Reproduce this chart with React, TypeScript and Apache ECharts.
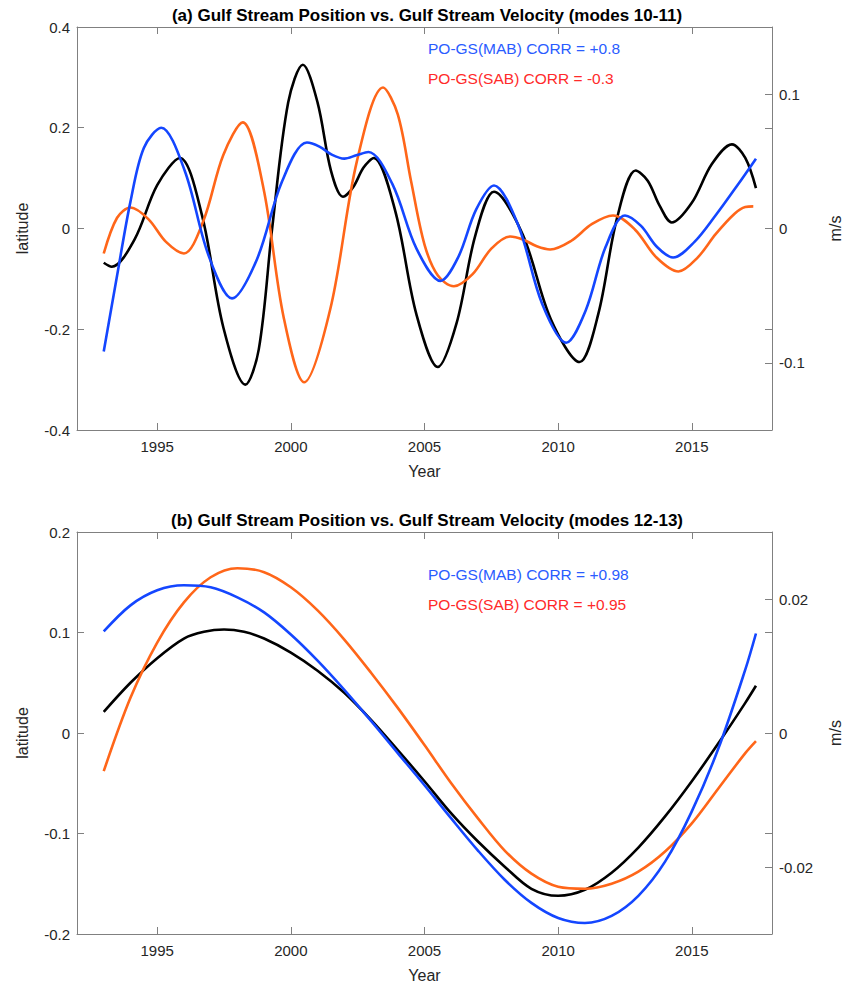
import React, { useEffect, useRef } from "react";
import * as echarts from "echarts";

// ---------- DATA ----------
const yearTicks = [1995, 2000, 2005, 2010, 2015];

// Panel (a) modes 10-11
// black: Gulf Stream position (latitude, left axis)
const posA: [number, number][] = [
  [1993.0, -0.068], [1993.3, -0.076], [1994.15, -0.022], [1995.0, 0.086], [1995.85, 0.14],
  [1996.67, 0.0275], [1997.48, -0.1975], [1998.3, -0.31], [1998.8, -0.24], [1999.3, 0.0],
  [1999.9, 0.25], [2000.45, 0.325], [2001.0, 0.25], [2001.5, 0.115], [2001.95, 0.063],
  [2002.33, 0.082], [2002.72, 0.121], [2003.1, 0.14], [2003.9, 0.036], [2004.7, -0.171],
  [2005.5, -0.275], [2006.2, -0.188], [2006.9, -0.014], [2007.6, 0.073], [2008.67, -0.0115],
  [2009.73, -0.1805], [2010.8, -0.265], [2011.5, -0.17], [2012.2, 0.02], [2012.9, 0.115],
  [2013.35, 0.095], [2013.8, 0.045], [2014.25, 0.012], [2015.0, 0.051], [2015.75, 0.128],
  [2016.5, 0.167], [2017.0, 0.14], [2017.4, 0.08],
];
// blue: PO-GS(MAB) velocity (m/s, right axis)
const mabA: [number, number][] = [
  [1993.0, -0.0915], [1993.5, -0.035], [1994.0, 0.02], [1994.5, 0.06], [1995.15, 0.075],
  [1996.03, 0.043], [1996.92, -0.02], [1997.8, -0.052], [1998.73, -0.023], [1999.67, 0.035],
  [2000.6, 0.064], [2001.07, 0.061], [2001.53, 0.055], [2002.0, 0.052], [2002.45, 0.0545],
  [2002.9, 0.057], [2003.8, 0.033], [2004.7, -0.015], [2005.6, -0.039], [2006.27, -0.021],
  [2006.93, 0.014], [2007.6, 0.032], [2008.5, 0.0028], [2009.4, -0.056], [2010.3, -0.085],
  [2011.03, -0.061], [2011.77, -0.014], [2012.5, 0.0097], [2013.1, 0.0019], [2013.7, -0.0138],
  [2014.3, -0.0216], [2015.1, -0.01], [2015.9, 0.01], [2016.7, 0.032], [2017.4, 0.052],
];
// orange: PO-GS(SAB) velocity (m/s, right axis)
const sabA: [number, number][] = [
  [1993.0, -0.0186], [1993.5, 0.008], [1994.0, 0.0156], [1994.67, 0.007], [1995.33, -0.01],
  [1996.0, -0.0186], [1996.73, 0.0058], [1997.47, 0.0546], [1998.2, 0.079], [1998.97, 0.0306],
  [1999.73, -0.066], [2000.5, -0.1145], [2001.48, -0.0596], [2002.47, 0.05], [2003.45, 0.105],
  [2004.0, 0.085], [2004.5, 0.035], [2005.0, -0.012], [2005.5, -0.035], [2006.1, -0.043],
  [2006.8, -0.034], [2007.5, -0.015], [2008.2, -0.006], [2008.7, -0.0084], [2009.2, -0.0132],
  [2009.7, -0.0156], [2010.48, -0.0093], [2011.27, 0.0034], [2012.05, 0.0097], [2012.87, -0.0007],
  [2013.68, -0.0216], [2014.5, -0.032], [2015.2, -0.022], [2015.9, -0.004], [2016.6, 0.011],
  [2017.0, 0.016], [2017.3, 0.0165],
];

// Panel (b) modes 12-13
const posB: [number, number][] = [
  [1993, 0.021], [1994, 0.05], [1995, 0.0745], [1996, 0.094], [1996.75, 0.1007], [1997.5, 0.103],
  [1998.25, 0.1007], [1999, 0.094], [2000, 0.08], [2001, 0.062], [2002, 0.04], [2003, 0.013],
  [2004, -0.017], [2005, -0.048], [2006, -0.08], [2007, -0.108], [2008, -0.133], [2009, -0.155],
  [2010, -0.162], [2011, -0.156], [2012, -0.139], [2013, -0.114], [2014, -0.083], [2015, -0.048],
  [2016, -0.01], [2017, 0.03], [2017.4, 0.047],
];
const mabB: [number, number][] = [
  [1993, 0.01515], [1994, 0.01905], [1995, 0.0213], [1996, 0.02205], [1997, 0.02175],
  [1998, 0.02025], [1999, 0.018], [2000, 0.0147], [2001, 0.0108], [2002, 0.00645],
  [2003, 0.0018], [2004, -0.003], [2005, -0.0078], [2006, -0.01275], [2007, -0.01755],
  [2008, -0.0219], [2009, -0.02535], [2010, -0.0276], [2011, -0.02835], [2012, -0.0273],
  [2013, -0.0243], [2014, -0.0192], [2015, -0.0117], [2016, -0.00225], [2017, 0.00945],
  [2017.4, 0.01485],
];
const sabB: [number, number][] = [
  [1993, -0.0057], [1994, 0.00525], [1995, 0.0135], [1996, 0.0195], [1997, 0.02325],
  [1998, 0.0246], [1999, 0.024], [2000, 0.02175], [2001, 0.0183], [2002, 0.01395],
  [2003, 0.009], [2004, 0.00375], [2005, -0.0018], [2006, -0.0075], [2007, -0.01275],
  [2008, -0.01755], [2009, -0.021], [2010, -0.02295], [2011, -0.02325], [2012, -0.0225],
  [2013, -0.0207], [2014, -0.0177], [2015, -0.0135], [2016, -0.00825], [2017, -0.003],
  [2017.4, -0.0012],
];

const titleA = "(a) Gulf Stream Position vs. Gulf Stream Velocity (modes 10-11)";
const titleB = "(b) Gulf Stream Position vs. Gulf Stream Velocity (modes 12-13)";
const corrA = ["PO-GS(MAB) CORR = +0.8", "PO-GS(SAB) CORR = -0.3"];
const corrB = ["PO-GS(MAB) CORR = +0.98", "PO-GS(SAB) CORR = +0.95"];

// ---------- STYLE ----------
const FONT = '"Liberation Sans", Arial, Helvetica, sans-serif';
const AX = "#808080";
const TXT = "#262626";
const BLACK = "#000000";
const BLUE = "#1446ff";
const ORANGE = "#ff6619";
const BLUE_TXT = "#2a5cff";
const RED_TXT = "#ff2a2a";

const GRID_LEFT = 77;
const GRID_W = 700;
const GRID_H = 403;
const TOP_A = 27;
const TOP_B = 532;

const fmt = (v: number) => String(v);

function xAxes(gridIndex: number) {
  const common = {
    type: "value" as const,
    gridIndex,
    min: 1992,
    max: 2018,
    splitLine: { show: false },
    axisLine: { show: true, onZero: false, lineStyle: { color: AX, width: 1 } },
  };
  return [
    {
      ...common,
      position: "bottom",
      axisTick: { show: true, inside: true, length: 7, customValues: yearTicks, lineStyle: { color: AX } },
      axisLabel: {
        show: true, customValues: yearTicks, margin: 9, fontSize: 15, color: TXT, fontFamily: FONT,
        formatter: fmt,
      },
      name: "Year",
      nameLocation: "middle",
      nameGap: 33,
      nameTextStyle: { fontSize: 16, color: TXT, fontFamily: FONT },
    },
    {
      ...common,
      position: "top",
      axisTick: { show: true, inside: true, length: 7, customValues: yearTicks, lineStyle: { color: AX } },
      axisLabel: { show: false },
    },
  ];
}

function yAxes(gridIndex: number, lmax: number, linterval: number, rmax: number, rlabels: number[], rticks: number[]) {
  return [
    {
      type: "value",
      gridIndex,
      position: "left",
      min: -lmax,
      max: lmax,
      interval: linterval,
      splitLine: { show: false },
      axisLine: { show: true, onZero: false, lineStyle: { color: AX, width: 1 } },
      axisTick: { show: true, inside: true, length: 7, lineStyle: { color: AX } },
      axisLabel: { margin: 7, fontSize: 15, color: TXT, fontFamily: FONT, formatter: fmt },
      name: "latitude",
      nameLocation: "middle",
      nameRotate: 90,
      nameGap: 47,
      nameTextStyle: { fontSize: 16, color: TXT, fontFamily: FONT },
    },
    {
      type: "value",
      gridIndex,
      position: "right",
      min: -rmax,
      max: rmax,
      splitLine: { show: false },
      axisLine: { show: true, onZero: false, lineStyle: { color: AX, width: 1 } },
      axisTick: { show: true, inside: true, length: 7, customValues: rticks, lineStyle: { color: AX } },
      axisLabel: { customValues: rlabels, margin: 7, fontSize: 15, color: TXT, fontFamily: FONT, formatter: fmt },
      name: "m/s",
      nameLocation: "middle",
      nameRotate: 90,
      nameGap: 55,
      nameTextStyle: { fontSize: 16, color: TXT, fontFamily: FONT },
    },
  ];
}

function line(data: [number, number][], color: string, xAxisIndex: number, yAxisIndex: number) {
  return {
    type: "line",
    data,
    xAxisIndex,
    yAxisIndex,
    smooth: 0.33,
    showSymbol: false,
    symbol: "none",
    lineStyle: { color, width: 2.6 },
    z: 3,
  };
}

function txt(x: number, y: number, text: string, font: string, fill: string, align: string) {
  return {
    type: "text",
    x,
    y,
    style: { text, font, fill, textAlign: align, textVerticalAlign: "middle" },
  };
}

export default function App() {
  const ref = useRef<HTMLDivElement>(null);
  useEffect(() => {
    if (!ref.current) return;
    const chart = echarts.init(ref.current, undefined, { renderer: "svg" });
    const option = {
      animation: false,
      backgroundColor: "#ffffff",
      grid: [
        { left: GRID_LEFT, top: TOP_A, width: GRID_W, height: GRID_H },
        { left: GRID_LEFT, top: TOP_B, width: GRID_W, height: GRID_H },
      ],
      xAxis: [...xAxes(0), ...xAxes(1)],
      yAxis: [
        ...yAxes(0, 0.4, 0.2, 0.15, [-0.1, 0, 0.1], [-0.1, -0.075, 0, 0.075, 0.1]),
        ...yAxes(1, 0.2, 0.1, 0.03, [-0.02, 0, 0.02], [-0.02, -0.015, 0, 0.015, 0.02]),
      ],
      series: [
        line(posA, BLACK, 0, 0),
        line(sabA, ORANGE, 0, 1),
        line(mabA, BLUE, 0, 1),
        line(posB, BLACK, 2, 2),
        line(sabB, ORANGE, 2, 3),
        line(mabB, BLUE, 2, 3),
      ],
      graphic: [
        txt(427, 15, titleA, `bold 17px ${FONT}`, "#000", "center"),
        txt(427, 520, titleB, `bold 17px ${FONT}`, "#000", "center"),
        txt(428, 48, corrA[0], `15.5px ${FONT}`, BLUE_TXT, "left"),
        txt(428, 78, corrA[1], `15.5px ${FONT}`, RED_TXT, "left"),
        txt(428, 574, corrB[0], `15.5px ${FONT}`, BLUE_TXT, "left"),
        txt(428, 604, corrB[1], `15.5px ${FONT}`, RED_TXT, "left"),
      ],
    };
    chart.setOption(option as any);
    return () => chart.dispose();
  }, []);
  return (
    <div
      ref={ref}
      style={{ position: "fixed", left: 0, top: 0, width: 851, height: 984, background: "#fff" }}
    />
  );
}
